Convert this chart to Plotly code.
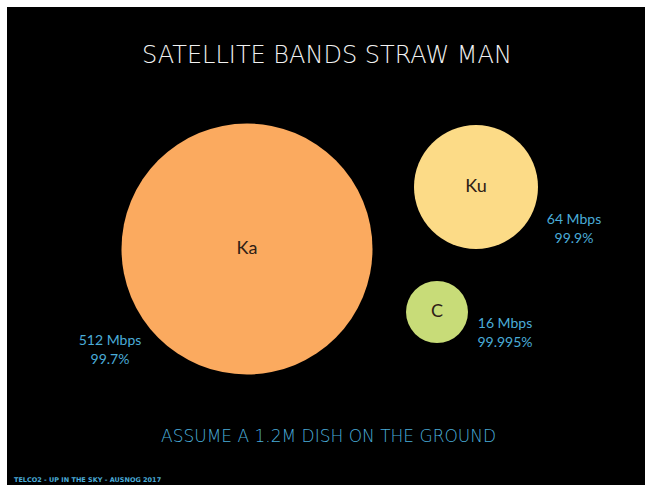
import plotly.graph_objects as go

# Satellite bands: name, throughput and availability
bands = ["Ka", "Ku", "C"]
throughput = ["512 Mbps", "64 Mbps", "16 Mbps"]
availability = ["99.7%", "99.9%", "99.995%"]

# Layout of the bubbles (page pixel coordinates) and their diameters
centre_x = [247, 476, 437]
centre_y = [249, 187, 312]
diameter = [251, 124, 62]
fill = ["#fbaa5f", "#fcdb87", "#c8dc78"]

# Where each throughput / availability caption sits
caption_x = [110, 574, 505]
caption_y = [351, 230, 334]

title = "SATELLITE BANDS STRAW MAN"
subtitle = "ASSUME A 1.2M DISH ON THE GROUND"
footer = "TELCO2 - UP IN THE SKY - AUSNOG 2017"

W, H = 645, 485
BLUE = "#4aacd8"

fig = go.Figure()

fig.add_trace(go.Scatter(
    x=centre_x, y=centre_y,
    mode="markers+text",
    marker=dict(size=diameter, sizemode="diameter", color=fill,
                opacity=1, line=dict(width=0)),
    text=bands,
    textposition="middle center",
    textfont=dict(family="Lato", size=18, color="#2e2016"),
    hoverinfo="skip",
    showlegend=False,
))

fig.add_trace(go.Scatter(
    x=caption_x, y=caption_y,
    mode="text",
    text=[f"{t}<br>{a}" for t, a in zip(throughput, availability)],
    textposition="middle center",
    textfont=dict(family="Lato", size=14, color=BLUE),
    hoverinfo="skip",
    showlegend=False,
))

# slide background
fig.add_shape(type="rect", xref="x", yref="y", x0=7, y0=7, x1=W, y1=H,
              fillcolor="#000000", line=dict(width=0), layer="below")

fig.add_annotation(x=327, y=55, xref="x", yref="y", text=title,
                   showarrow=False,
                   font=dict(family="DejaVu Sans", size=24, color="#f2f2f2",
                             weight=200))
fig.add_annotation(x=328, y=436, xref="x", yref="y", text=subtitle,
                   showarrow=False,
                   font=dict(family="DejaVu Sans", size=17, color=BLUE,
                             weight=200))
fig.add_annotation(x=12, y=480, xref="x", yref="y", text=footer,
                   showarrow=False, xanchor="left",
                   font=dict(family="DejaVu Sans", size=6.5, color=BLUE,
                             weight="bold"))

fig.update_layout(
    width=W, height=H,
    margin=dict(l=0, r=0, t=0, b=0),
    paper_bgcolor="#ffffff",
    plot_bgcolor="rgba(0,0,0,0)",
    xaxis=dict(range=[0, W], visible=False, fixedrange=True),
    yaxis=dict(range=[H, 0], visible=False, fixedrange=True),
)

fig.write_html("out.html", config=dict(displayModeBar=False))
